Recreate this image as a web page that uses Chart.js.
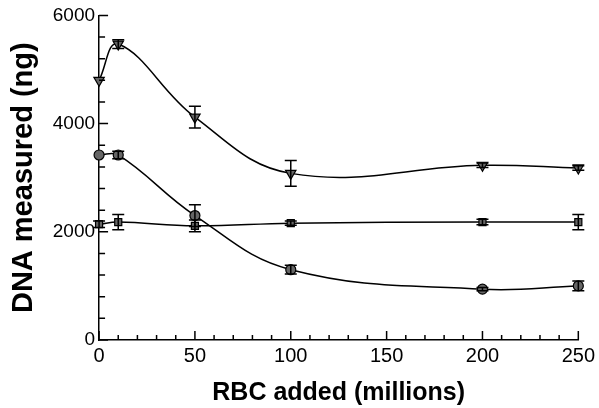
<!DOCTYPE html>
<html>
<head>
<meta charset="utf-8">
<script src="https://cdn.jsdelivr.net/npm/chart.js@4.4.0/dist/chart.umd.min.js"></script>
<style>
  body { margin: 0; background: #fff; }
</style>
</head>
<body>
<canvas id="c" width="599" height="408"></canvas>
<script>
// RBC added (millions)
var rbc = [0, 10, 50, 100, 200, 250];

// DNA measured (ng), three series + their error bars
var triVals = [4800, 5470, 4120, 3080, 3230, 3180];
var triErr  = [0, 80, 200, 240, 40, 40];
var cirVals = [3420, 3420, 2300, 1300, 940, 1000];
var cirErr  = [0, 70, 200, 80, 30, 90];
var sqVals  = [2140, 2180, 2110, 2160, 2180, 2180];
var sqErr   = [60, 140, 110, 40, 50, 140];

var xTicks = [0, 50, 100, 150, 200, 250];
var yTicks = [0, 2000, 4000, 6000];

function pts(vals) {
  return rbc.map(function(x, i) { return { x: x, y: vals[i] }; });
}

function series(vals, errs, style, radius, rot) {
  return {
    data: pts(vals),
    errors: errs,
    borderColor: '#000',
    borderWidth: 1.5,
    tension: 0.4,
    clip: false,
    pointStyle: style,
    pointRadius: radius,
    pointRotation: rot,
    pointBackgroundColor: '#666',
    pointBorderColor: '#000',
    pointBorderWidth: 1.2,
    fill: false
  };
}

var errorBars = {
  id: 'errorBars',
  afterDatasetsDraw: function(chart) {
    var ctx = chart.ctx, xs = chart.scales.x, ys = chart.scales.y;
    ctx.save();
    ctx.strokeStyle = '#000';
    ctx.lineWidth = 1.5;
    chart.data.datasets.forEach(function(ds) {
      ds.data.forEach(function(p, i) {
        var e = ds.errors[i];
        if (!e) return;
        var px = xs.getPixelForValue(p.x);
        var top = ys.getPixelForValue(p.y + e);
        var bot = ys.getPixelForValue(p.y - e);
        ctx.beginPath();
        ctx.moveTo(px, top); ctx.lineTo(px, bot);
        ctx.moveTo(px - 6, top); ctx.lineTo(px + 6, top);
        ctx.moveTo(px - 6, bot); ctx.lineTo(px + 6, bot);
        ctx.stroke();
      });
    });
    ctx.restore();
  }
};

// tick marks pointing into the plot
var innerTicks = {
  id: 'innerTicks',
  afterDraw: function(chart) {
    var ctx = chart.ctx, xs = chart.scales.x, ys = chart.scales.y;
    var left = chart.chartArea.left, bottom = chart.chartArea.bottom;
    ctx.save();
    ctx.strokeStyle = '#000';
    ctx.lineWidth = 1.5;
    ctx.beginPath();
    for (var v = 0; v <= 6000; v += 400) {
      var py = ys.getPixelForValue(v);
      ctx.moveTo(left, py);
      ctx.lineTo(left + (v % 2000 === 0 ? 9 : 6), py);
    }
    for (var u = 0; u <= 250; u += 10) {
      var px = xs.getPixelForValue(u);
      ctx.moveTo(px, bottom);
      ctx.lineTo(px, bottom - (u % 50 === 0 ? 9 : 5));
    }
    ctx.stroke();
    ctx.restore();
  }
};

function plain(v) { return String(v); }

new Chart(document.getElementById('c'), {
  type: 'line',
  data: {
    datasets: [
      series(triVals, triErr, 'triangle', 6, 180),
      series(cirVals, cirErr, 'circle', 5, 0),
      series(sqVals, sqErr, 'rect', 5, 0)
    ]
  },
  options: {
    responsive: false,
    animation: false,
    layout: { padding: { top: 15, right: 4, left: 7, bottom: 0 } },
    plugins: {
      legend: { display: false },
      tooltip: { enabled: false }
    },
    scales: {
      x: {
        type: 'linear',
        min: 0,
        max: 250,
        afterBuildTicks: function(s) { s.ticks = xTicks.map(function(v) { return { value: v }; }); },
        ticks: { color: '#000', padding: 4, maxRotation: 0, callback: plain, font: { family: 'Liberation Sans', size: 20 } },
        grid: { display: false, drawTicks: false },
        border: { color: '#000', width: 1.5 },
        title: {
          display: true,
          text: 'RBC added (millions)',
          color: '#000',
          padding: { top: 6, bottom: 0 },
          font: { family: 'Liberation Sans', size: 25, weight: 'bold' }
        }
      },
      y: {
        min: 0,
        max: 6000,
        afterBuildTicks: function(s) { s.ticks = yTicks.map(function(v) { return { value: v }; }); },
        ticks: { color: '#000', padding: 4, callback: plain, font: { family: 'Liberation Sans', size: 19 } },
        grid: { display: false, drawTicks: false },
        border: { color: '#000', width: 1.5 },
        title: {
          display: true,
          text: 'DNA measured (ng)',
          color: '#000',
          padding: { top: 0, bottom: 7 },
          font: { family: 'Liberation Sans', size: 29, weight: 'bold' }
        }
      }
    }
  },
  plugins: [errorBars, innerTicks]
});
</script>
</body>
</html>
